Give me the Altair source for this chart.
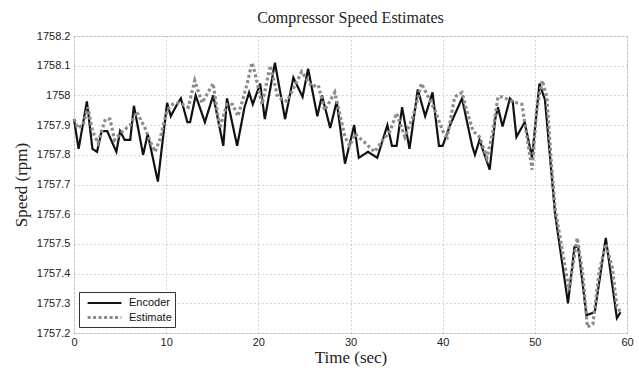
import altair as alt
import pandas as pd

enc_t = [0.0, 0.5, 1.4, 2.0, 2.5, 3.0, 3.6, 4.6, 5.0, 5.5, 6.1, 6.5, 7.5, 8.0, 9.1, 10.1, 10.5, 11.1,
         11.6, 12.3, 12.6, 13.2, 14.2, 15.1, 16.2, 16.6, 17.7, 18.5, 19.0, 19.4, 20.2, 20.7, 21.8, 22.9,
         23.8, 24.8, 25.4, 26.4, 26.9, 27.8, 28.5, 29.4, 30.4, 30.9, 31.9, 32.9, 34.0, 34.5, 35.0, 35.6,
         36.4, 37.3, 38.1, 38.9, 39.6, 40.0, 40.8, 42.1, 43.2, 43.5, 44.0, 45.1, 45.7, 46.0, 46.5, 47.3,
         47.6, 48.0, 48.9, 49.7, 50.5, 51.1, 52.2, 53.6, 54.3, 54.7, 55.6, 56.5, 57.7, 58.9, 59.3]
enc_v = [1757.92, 1757.82, 1757.98, 1757.82, 1757.81, 1757.88, 1757.88, 1757.81, 1757.88, 1757.85,
         1757.85, 1757.965, 1757.80, 1757.87, 1757.71, 1757.975, 1757.93, 1757.965, 1757.99, 1757.91,
         1757.91, 1758.00, 1757.91, 1758.00, 1757.83, 1757.99, 1757.83, 1757.96, 1758.01, 1757.97,
         1758.04, 1757.92, 1758.11, 1757.92, 1758.06, 1757.995, 1758.09, 1757.93, 1758.00, 1757.89,
         1757.98, 1757.77, 1757.90, 1757.79, 1757.81, 1757.79, 1757.90, 1757.83, 1757.83, 1757.96,
         1757.82, 1758.02, 1757.93, 1758.01, 1757.83, 1757.83, 1757.90, 1757.99, 1757.83, 1757.80,
         1757.85, 1757.75, 1757.92, 1757.96, 1757.895, 1757.99, 1757.98, 1757.86, 1757.91, 1757.79,
         1758.04, 1757.985, 1757.60, 1757.30, 1757.49, 1757.49, 1757.26, 1757.27, 1757.52, 1757.25,
         1757.27]

est_t = [0.0, 0.4, 1.0, 1.5, 2.0, 2.6, 3.4, 3.9, 4.4, 5.3, 6.1, 6.8, 7.7, 8.2, 8.8, 9.3, 10.1, 10.7,
         11.4, 12.4, 13.1, 13.9, 15.1, 15.8, 16.6, 17.2, 17.8, 18.8, 19.3, 19.6, 20.4, 21.3, 22.1, 23.1,
         24.0, 24.7, 25.8, 26.5, 27.2, 28.3, 29.4, 29.9, 30.5, 31.6, 32.6, 33.5, 34.3, 35.0, 35.9, 36.8,
         37.7, 38.6, 39.3, 40.0, 40.5, 41.3, 42.1, 42.6, 43.3, 44.0, 44.8, 45.4, 46.0, 46.5, 47.5, 48.6,
         49.2, 49.7, 50.2, 50.8, 51.3, 51.8, 52.2, 53.3, 53.7, 54.6, 55.2, 55.7, 56.3, 57.0, 57.7, 58.4,
         58.9, 59.3]
est_v = [1757.92, 1757.89, 1757.90, 1757.96, 1757.88, 1757.84, 1757.92, 1757.92, 1757.85, 1757.88,
         1757.90, 1757.945, 1757.89, 1757.85, 1757.81, 1757.85, 1757.95, 1757.97, 1757.975, 1757.96,
         1758.05, 1757.975, 1758.04, 1757.89, 1757.97, 1757.97, 1757.93, 1758.04, 1758.11, 1758.08,
         1757.97, 1758.10, 1757.995, 1757.98, 1758.035, 1758.08, 1758.03, 1758.035, 1757.95, 1758.01,
         1757.86, 1757.83, 1757.87, 1757.84, 1757.81, 1757.85, 1757.88, 1757.94, 1757.86, 1757.93,
         1758.04, 1757.985, 1757.94, 1757.88, 1757.86, 1757.995, 1758.01, 1757.95, 1757.88, 1757.86,
         1757.79, 1757.87, 1757.995, 1757.995, 1757.98, 1757.97, 1757.85, 1757.75, 1757.95, 1758.05,
         1757.995, 1757.77, 1757.62, 1757.42, 1757.345, 1757.52, 1757.40, 1757.22, 1757.23, 1757.41,
         1757.50, 1757.42, 1757.29, 1757.27]

series_names = ["Encoder", "Estimate"]
x_ticks = [0, 10, 20, 30, 40, 50, 60]
y_ticks = [1757.2, 1757.3, 1757.4, 1757.5, 1757.6, 1757.7, 1757.8, 1757.9, 1758.0, 1758.1, 1758.2]

rows = []
for i, (t, v) in enumerate(zip(enc_t, enc_v)):
    rows.append({"time": t, "speed": v, "series": "Encoder", "order": i})
for i, (t, v) in enumerate(zip(est_t, est_v)):
    rows.append({"time": t, "speed": v, "series": "Estimate", "order": i})
df = pd.DataFrame(rows)

serif = "Liberation Serif"
sans = "Liberation Sans"

chart = alt.Chart(df).mark_line(strokeCap="butt", strokeJoin="miter").encode(
    x=alt.X("time:Q", scale=alt.Scale(domain=[0, 60], nice=False),
            axis=alt.Axis(values=x_ticks, title="Time (sec)", titleFont=serif, titleFontSize=17,
                          titleFontWeight="normal", titleColor="#222", titlePadding=2,
                          labelFont=sans, labelFontSize=11, labelColor="#222", labelPadding=3,
                          ticks=False, domain=False, gridDash=[1, 3], gridColor="#aaa",
                          labelFlush=False)),
    y=alt.Y("speed:Q", scale=alt.Scale(domain=[1757.2, 1758.2], nice=False, zero=False),
            axis=alt.Axis(values=y_ticks, title="Speed (rpm)", titleFont=serif, titleFontSize=17,
                          titleFontWeight="normal", titleColor="#222", titlePadding=6,
                          labelFont=sans, labelFontSize=11, labelColor="#222", labelPadding=4,
                          labelExpr="replace(format(datum.value, '.1f'), '.0', '')",
                          ticks=False, domain=False, gridDash=[1, 3], gridColor="#aaa")),
    color=alt.Color("series:N", scale=alt.Scale(domain=series_names, range=["#111111", "#8c8c8c"]),
                    legend=alt.Legend(title=None, orient="none", legendX=5, legendY=256,
                                      direction="vertical", fillColor="white", strokeColor="#333",
                                      padding=3, symbolType="M-2.6,0L2.6,0", symbolSize=169,
                                      symbolOffset=14, symbolStrokeWidth=2.5,
                                      labelFont=sans, labelFontSize=11,
                                      labelColor="#111", rowPadding=1, labelOffset=16,
                                      cornerRadius=0)),
    strokeDash=alt.StrokeDash("series:N", scale=alt.Scale(domain=series_names, range=[[1, 0], [3, 2.5]]),
                              legend=None),
    strokeWidth=alt.StrokeWidth("series:N", scale=alt.Scale(domain=series_names, range=[2.2, 3.2]),
                                legend=None),
    order="order:Q",
).properties(
    width=553, height=297,
    title=alt.Title("Compressor Speed Estimates", font=serif, fontSize=16, fontWeight="normal",
                    color="#222", offset=4),
    autosize=alt.AutoSizeParams(type="none"),
    padding={"left": 74, "top": 36, "right": 12, "bottom": 39},
).configure_view(stroke="#444", strokeWidth=1).configure(background="white")

chart.save("out.html", embed_options={"renderer": "svg", "actions": False})
